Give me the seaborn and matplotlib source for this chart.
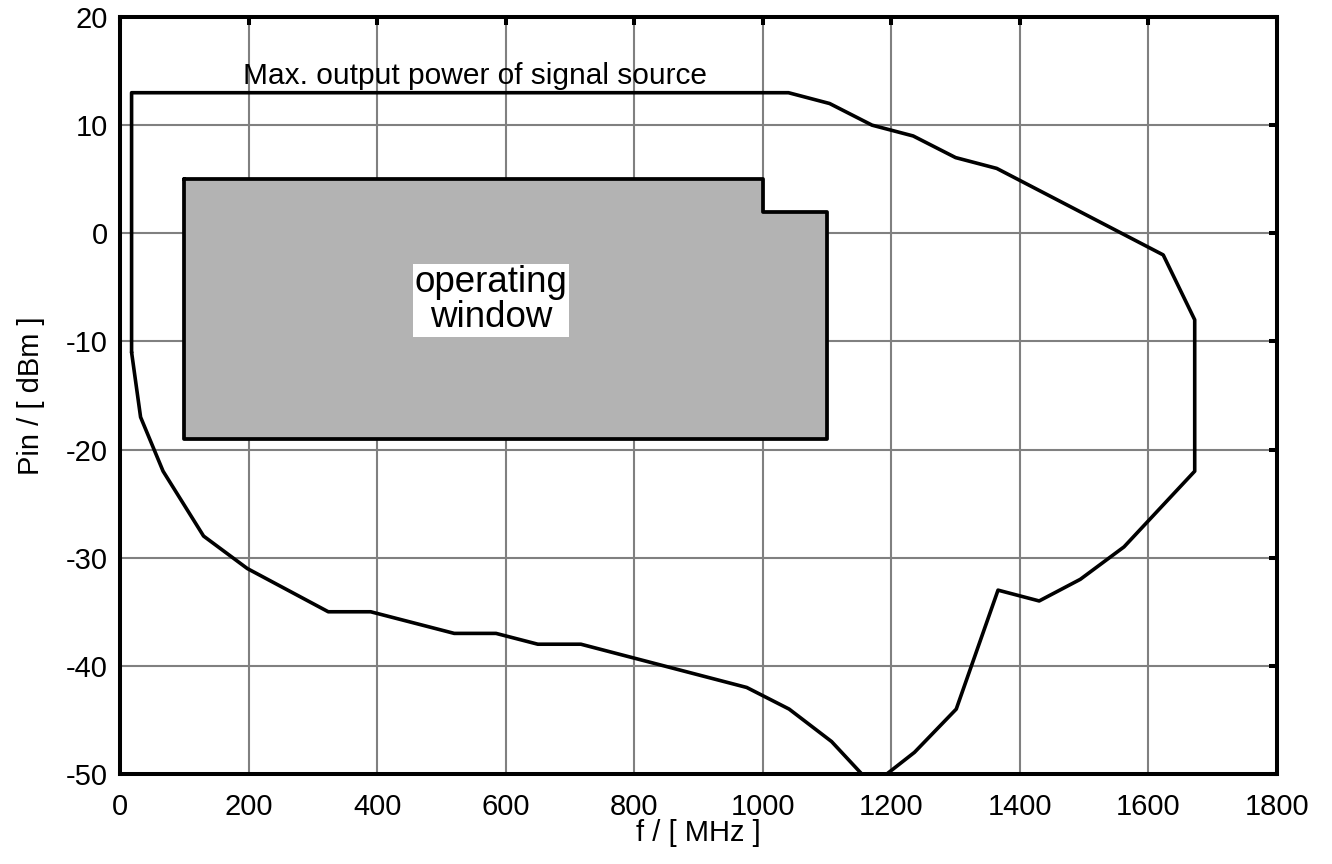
import numpy as np
import pandas as pd
import matplotlib
matplotlib.use("Agg")
import matplotlib.pyplot as plt
import seaborn as sns

# outer boundary: max. output power of signal source / sensitivity limit
f_outer = [18, 18, 1040, 1104, 1170, 1234, 1300, 1364, 1623, 1672, 1672, 1562, 1494,
           1430, 1366, 1301, 1236, 1193, 1154, 1107, 1041, 975, 717, 650, 585, 520,
           390, 324, 198, 130, 67, 32, 18]
p_outer = [-11, 13, 13, 12, 10, 9, 7, 6, -2, -8, -22, -29, -32,
           -34, -33, -44, -48, -50, -50, -47, -44, -42, -38, -38, -37, -37,
           -35, -35, -31, -28, -22, -17, -11]

# operating window (grey area)
f_window = [100, 1000, 1000, 1100, 1100, 100, 100]
p_window = [5, 5, 2, 2, -19, -19, 5]

x_ticks = [0, 200, 400, 600, 800, 1000, 1200, 1400, 1600, 1800]
y_ticks = [20, 10, 0, -10, -20, -30, -40, -50]

outer = pd.DataFrame({"f": f_outer, "p": p_outer})
window = pd.DataFrame({"f": f_window, "p": p_window})

sns.set_style("white")
plt.rcParams['font.family'] = ['Liberation Sans', 'DejaVu Sans']
plt.rcParams['axes.unicode_minus'] = False
plt.rcParams['text.color'] = 'black'
plt.rcParams['axes.labelcolor'] = 'black'
plt.rcParams['xtick.labelcolor'] = 'black'
plt.rcParams['ytick.labelcolor'] = 'black'

fig = plt.figure(figsize=(13.32, 8.64), dpi=100)
ax = fig.add_axes([0.0901, 0.1042, 0.8686, 0.8761])

ax.fill(window["f"], window["p"], color="#b3b3b3", zorder=2)
sns.lineplot(data=window, x="f", y="p", sort=False, estimator=None,
             color="black", lw=2.7, ax=ax, zorder=3)
sns.lineplot(data=outer, x="f", y="p", sort=False, estimator=None,
             color="black", lw=2.6, ax=ax, zorder=3)

ax.set_xlim(0, 1800)
ax.set_ylim(-50, 20)
ax.set_xticks(x_ticks)
ax.set_yticks(y_ticks)
ax.grid(True, color="#808080", lw=1.5, zorder=1)
ax.set_axisbelow(True)
for s in ax.spines.values():
    s.set_color("black")
    s.set_linewidth(2.9)
ax.tick_params(axis="both", direction="in", length=6, width=2.9, color="black",
               top=True, right=True, labelsize=21)
ax.tick_params(axis="x", pad=14)
ax.tick_params(axis="y", pad=9)

ax.set_xlabel("f / [ MHz ]", fontsize=21, labelpad=-2)
ax.set_ylabel("Pin / [ dBm ]", fontsize=21, labelpad=15)

ax.text(191, 14.5, "Max. output power of signal source", fontsize=21.5,
        va="center", ha="left", zorder=4)
ax.text(577, -6.2, "operating\nwindow", fontsize=26.5, ha="center", va="center",
        linespacing=1.0, zorder=4,
        bbox=dict(facecolor="white", edgecolor="none", pad=1))

fig.savefig("out.png", dpi=100)
